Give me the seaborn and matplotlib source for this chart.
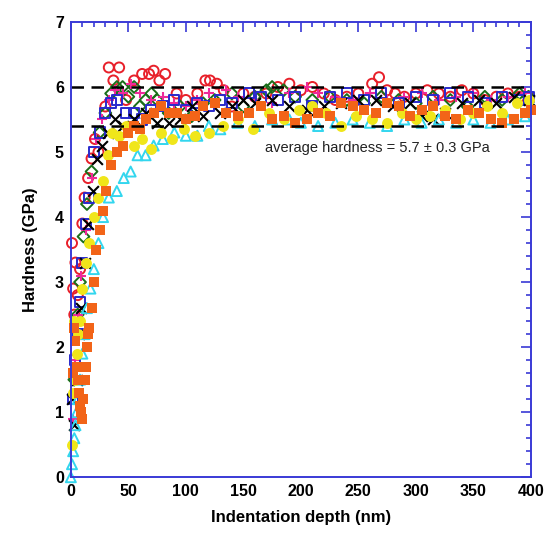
import numpy as np
import pandas as pd
import seaborn as sns
import matplotlib.pyplot as plt
from matplotlib.ticker import MultipleLocator

sns.set_style("white")
plt.rcParams['font.family'] = ['Liberation Sans', 'DejaVu Sans']

# %% Data

red_x = [1, 2, 3, 4, 6, 8, 10, 12, 15, 18, 21, 24, 30, 33, 37, 42, 48, 55, 62, 68, 72, 77, 82,
         92, 100, 110, 117, 121, 127, 133, 140, 150, 160, 170, 180, 190, 200, 210, 220, 230,
         240, 250, 262, 268, 275, 282, 290, 300, 310, 320, 330, 340, 350, 360, 370, 380, 390, 398]
red_y = [3.6, 2.9, 2.5, 3.3, 2.8, 3.2, 3.9, 4.3, 4.6, 4.9, 5.2, 5.0, 5.7, 6.3, 6.1, 6.3, 5.8, 6.1,
         6.2, 6.2, 6.25, 6.1, 6.2, 5.9, 5.8, 5.9, 6.1, 6.1, 6.05, 5.95, 5.7, 5.9, 5.85, 5.9, 6.0,
         6.05, 5.95, 6.0, 5.9, 5.8, 5.85, 5.9, 6.05, 6.15, 5.95, 5.9, 5.85, 5.9, 5.95, 5.9, 5.85,
         5.95, 5.9, 5.8, 5.85, 5.9, 5.85, 5.85]

green_x = [3, 6, 8, 11, 14, 18, 25, 30, 35, 40, 45, 50, 55, 60, 65, 70, 75, 85, 95, 105, 115,
           125, 140, 150, 160, 170, 175, 185, 195, 210, 225, 240, 255, 270, 285, 300, 315, 330,
           345, 360, 375, 390, 398]
green_y = [1.5, 2.5, 3.0, 3.7, 4.2, 4.7, 5.3, 5.6, 5.9, 6.0, 6.0, 5.85, 6.0, 5.7, 5.8, 5.9, 5.8,
           5.6, 5.7, 5.55, 5.75, 5.8, 5.9, 5.7, 5.85, 5.95, 6.0, 5.95, 5.85, 5.8, 5.85, 5.8, 5.75,
           5.85, 5.8, 5.75, 5.85, 5.8, 5.7, 5.85, 5.8, 5.9, 5.85]

magenta_x = [2, 4, 6, 9, 13, 18, 22, 27, 33, 38, 45, 52, 60, 70, 80, 90, 100, 110, 120, 135,
             145, 160, 175, 190, 205, 215, 230, 245, 260, 275, 290, 305, 320, 335, 350, 365,
             380, 395]
magenta_y = [0.9, 1.8, 2.5, 3.1, 3.8, 4.6, 5.2, 5.5, 5.8, 5.95, 5.9, 6.05, 5.9, 5.8, 5.85, 5.75,
             5.7, 5.8, 5.9, 5.95, 5.85, 5.8, 5.75, 5.9, 6.0, 5.9, 5.85, 5.8, 5.9, 5.8, 5.85, 5.9,
             5.8, 5.85, 5.9, 5.8, 5.85, 5.9]

blue_x = [2, 4, 6, 8, 10, 13, 16, 20, 25, 30, 35, 40, 48, 55, 62, 70, 80, 90, 100, 110, 120,
          130, 140, 155, 165, 180, 195, 210, 225, 240, 255, 270, 285, 300, 315, 330, 345, 360,
          375, 390, 398]
blue_y = [1.2, 1.8, 2.2, 2.7, 3.3, 3.9, 4.3, 5.0, 5.3, 5.6, 5.75, 5.8, 5.6, 5.6, 5.5, 5.65, 5.7,
          5.8, 5.65, 5.75, 5.7, 5.8, 5.75, 5.9, 5.85, 5.8, 5.85, 5.7, 5.85, 5.9, 5.8, 5.9, 5.75,
          5.85, 5.8, 5.9, 5.85, 5.75, 5.85, 5.8, 5.85]

black_x = [1, 3, 5, 7, 9, 12, 15, 19, 23, 27, 32, 38, 45, 55, 65, 75, 85, 95, 105, 115, 130,
           140, 150, 160, 175, 190, 205, 220, 235, 250, 265, 280, 295, 305, 315, 325, 340, 355,
           370, 385, 398]
black_y = [1.2, 0.8, 1.5, 2.2, 2.6, 3.3, 3.9, 4.4, 4.9, 5.1, 5.3, 5.5, 5.4, 5.5, 5.6, 5.45,
           5.45, 5.5, 5.7, 5.55, 5.6, 5.7, 5.8, 5.75, 5.8, 5.7, 5.65, 5.7, 5.75, 5.8, 5.8, 5.7,
           5.75, 5.55, 5.5, 5.6, 5.75, 5.8, 5.75, 5.85, 5.8]

cyan_x = [0, 1, 2, 3, 4, 5, 6, 8, 10, 12, 14, 17, 20, 24, 28, 33, 40, 46, 52, 58, 65, 72, 80,
          90, 100, 110, 120, 130, 145, 160, 175, 190, 200, 215, 230, 245, 260, 275, 290, 305,
          320, 335, 350, 365, 380, 395]
cyan_y = [0.0, 0.2, 0.4, 0.6, 0.8, 1.0, 1.2, 1.5, 1.9, 2.2, 2.6, 2.9, 3.2, 3.6, 4.0, 4.3, 4.4,
          4.6, 4.7, 4.95, 4.95, 5.1, 5.2, 5.3, 5.25, 5.25, 5.4, 5.35, 5.45, 5.4, 5.5, 5.5, 5.45,
          5.4, 5.45, 5.5, 5.45, 5.4, 5.5, 5.45, 5.5, 5.45, 5.5, 5.45, 5.5, 5.55]

yellow_x = [1, 2, 3, 4, 5, 6, 8, 10, 13, 16, 20, 24, 28, 32, 36, 42, 48, 55, 62, 70, 78, 88,
            98, 108, 120, 132, 145, 158, 172, 185, 198, 210, 222, 235, 248, 262, 275, 288, 300,
            312, 325, 338, 350, 362, 375, 388, 398]
yellow_y = [0.5, 1.3, 2.4, 1.5, 1.9, 2.2, 2.4, 2.9, 3.3, 3.6, 4.0, 4.3, 4.55, 4.95, 5.3, 5.25,
            5.4, 5.1, 5.2, 5.05, 5.3, 5.2, 5.35, 5.25, 5.3, 5.4, 5.5, 5.35, 5.6, 5.5, 5.65, 5.7,
            5.6, 5.4, 5.55, 5.5, 5.45, 5.6, 5.5, 5.55, 5.65, 5.5, 5.6, 5.7, 5.6, 5.75, 5.8]

orange_x = [2, 3, 4, 5, 6, 7, 8, 9, 10, 11, 12, 13, 14, 15, 16, 18, 20, 22, 25, 28, 31, 35, 40,
            45, 50, 55, 60, 65, 72, 78, 85, 92, 100, 108, 115, 125, 135, 145, 155, 165, 175,
            185, 195, 205, 215, 225, 235, 245, 255, 265, 275, 285, 295, 305, 315, 325, 335, 345,
            355, 365, 375, 385, 395, 400]
orange_y = [1.6, 2.3, 2.1, 1.7, 1.5, 1.3, 1.1, 1.0, 0.9, 1.2, 1.5, 1.7, 2.0, 2.2, 2.3, 2.6, 3.0,
            3.5, 3.8, 4.1, 4.4, 4.8, 5.0, 5.1, 5.3, 5.4, 5.35, 5.5, 5.6, 5.7, 5.6, 5.6, 5.5, 5.55,
            5.7, 5.75, 5.6, 5.55, 5.6, 5.7, 5.5, 5.55, 5.45, 5.5, 5.6, 5.55, 5.75, 5.7, 5.65,
            5.6, 5.75, 5.7, 5.55, 5.65, 5.7, 5.55, 5.5, 5.65, 5.6, 5.5, 5.45, 5.5, 5.6, 5.65]

avg_hardness = 5.7
spread = 0.3

# %% Plot

fig = plt.figure(figsize=(5.45, 5.35), dpi=100)
ax = fig.add_axes([0.130, 0.108, 0.844, 0.851])

series = [
    (red_x, red_y, 'o', '#e8202a', False),
    (green_x, green_y, 'D', '#1a6e1a', False),
    (magenta_x, magenta_y, '+', '#ee2a9a', None),
    (blue_x, blue_y, 's', '#2a2acc', False),
    (black_x, black_y, 'x', 'black', None),
    (cyan_x, cyan_y, '^', '#33d6ee', False),
    (yellow_x, yellow_y, 'o', '#f0e61a', True),
    (orange_x, orange_y, 's', '#f26418', True),
]
for xs, ys, mk, col, filled in series:
    df = pd.DataFrame({'x': xs, 'y': ys})
    if filled is None:
        sns.scatterplot(data=df, x='x', y='y', marker=mk, color=col, ax=ax,
                        s=60, linewidth=1.5, clip_on=False)
    elif filled:
        sns.scatterplot(data=df, x='x', y='y', marker=mk, color=col, ax=ax,
                        s=62, linewidth=0, clip_on=False)
    else:
        size = 36 if mk == 'D' else 52
        sns.scatterplot(data=df, x='x', y='y', marker=mk, ax=ax, s=size,
                        facecolor='none', edgecolor=col, linewidth=1.4, clip_on=False)

for level in (avg_hardness + spread, avg_hardness - spread):
    ax.axhline(level, color='black', linestyle=(0, (5, 3)), linewidth=1.8, zorder=5)

ax.text(169, 5.06, 'average hardness = 5.7 \u00b1 0.3 GPa', fontsize=10.5,
        color='#222222', va='center')

ax.set_xlim(0, 400)
ax.set_ylim(0, 7)
ax.xaxis.set_major_locator(MultipleLocator(50))
ax.xaxis.set_minor_locator(MultipleLocator(10))
ax.yaxis.set_major_locator(MultipleLocator(1))
ax.yaxis.set_minor_locator(MultipleLocator(0.2))
axis_blue = '#3a3ad6'
ax.tick_params(which='both', direction='in', top=True, right=True, colors=axis_blue,
               labelcolor='black', width=1.2)
ax.tick_params(which='major', length=7, labelsize=11.5, pad=5)
ax.tick_params(which='minor', length=3.5)
for lab in ax.get_xticklabels() + ax.get_yticklabels():
    lab.set_fontweight('bold')
for sp in ax.spines.values():
    sp.set_color(axis_blue)
    sp.set_linewidth(1.4)
    sp.set_zorder(6)

ax.set_xlabel('Indentation depth (nm)', fontsize=12, fontweight='bold', labelpad=8,
              color='black')
ax.set_ylabel('Hardness (GPa)', fontsize=12, fontweight='bold', labelpad=12,
              color='black')

fig.savefig('out.png', dpi=100)
